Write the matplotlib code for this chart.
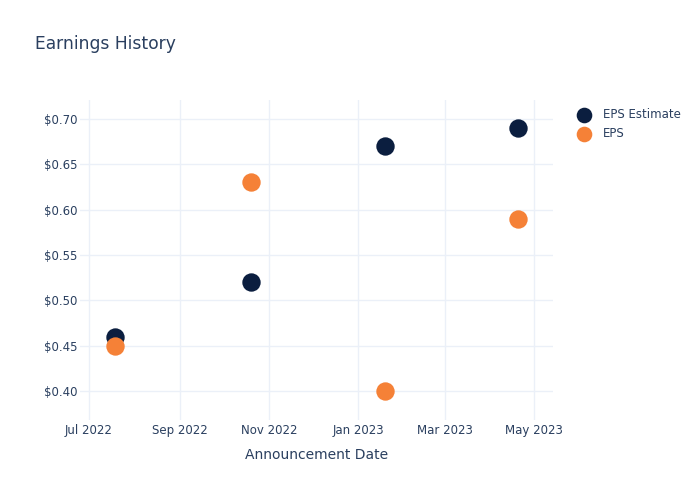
import matplotlib.pyplot as plt
import matplotlib.dates as mdates
import matplotlib.ticker as mticker
import numpy as np

# data
dates = np.array(['2022-07-19', '2022-10-20', '2023-01-19', '2023-04-20'], dtype='datetime64[D]')
eps_estimate = [0.46, 0.52, 0.67, 0.69]
eps_actual = [0.45, 0.63, 0.40, 0.59]

txt = '#2a3f5f'
grid = '#ebf0f8'
plt.rcParams['font.family'] = ['DejaVu Sans']

fig = plt.figure(figsize=(7, 5), dpi=100)
ax = fig.add_axes([80/700, 80/500, 473/700, 320/500])

ax.scatter(dates, eps_estimate, s=175, color='#0b1e3f', label='EPS Estimate', zorder=3, linewidths=0)
ax.scatter(dates, eps_actual, s=175, color='#f58137', label='EPS', zorder=3, linewidths=0)

ax.set_xlim(np.datetime64('2022-06-25'), np.datetime64('2023-05-14'))
ax.set_ylim(0.368, 0.721)
ax.xaxis.set_major_locator(mdates.MonthLocator(bymonth=[1, 3, 5, 7, 9, 11]))
ax.xaxis.set_major_formatter(mdates.DateFormatter('%b %Y'))
ax.yaxis.set_major_locator(mticker.MultipleLocator(0.05))
ax.yaxis.set_major_formatter(mticker.FuncFormatter(lambda v, p: f'${v:.2f}'))

for s in ax.spines.values():
    s.set_visible(False)
ax.grid(True, color=grid, linewidth=1)
ax.set_axisbelow(True)
ax.tick_params(length=0, labelsize=8.5, colors=txt)
ax.tick_params(axis='y', pad=2)
ax.tick_params(axis='x', pad=3)
ax.set_xlabel('Announcement Date', fontsize=10, color=txt, labelpad=8)

fig.text(35/700, 1 - 44/500, 'Earnings History', fontsize=12.3, color=txt, va='center')

fig.legend(loc='upper left', bbox_to_anchor=(572/700, 1 - 108/500), frameon=False,
           fontsize=8.5, labelcolor=txt, handletextpad=0.6, labelspacing=0.55,
           markerscale=0.85, borderaxespad=0, borderpad=0)

fig.savefig('out.png')
